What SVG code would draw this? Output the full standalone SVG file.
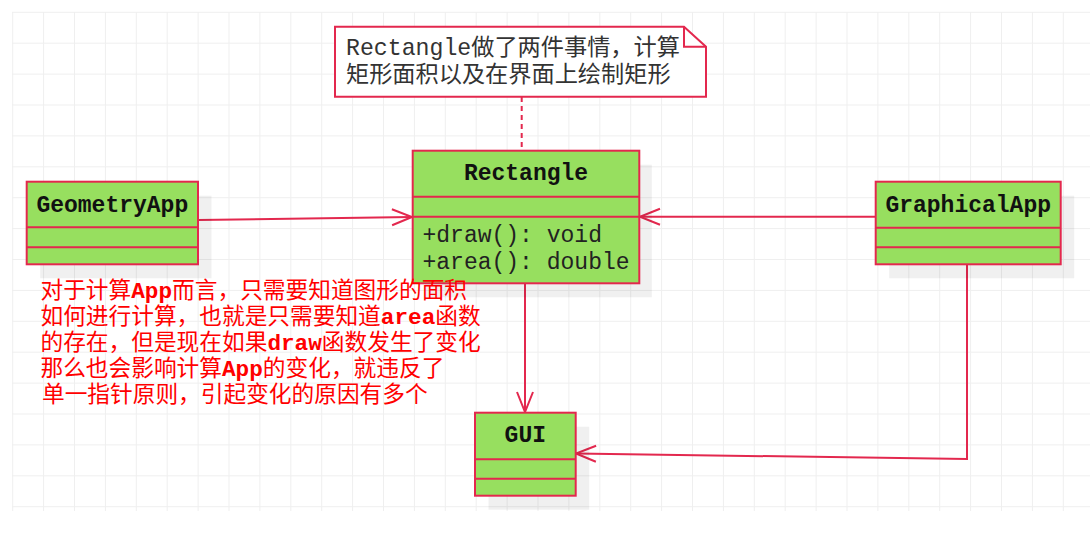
<svg xmlns="http://www.w3.org/2000/svg" width="1090" height="541" viewBox="0 0 1090 541">
<style>
.grid{stroke:#efefef;stroke-width:1;fill:none}
.shadow{fill:#000;fill-opacity:0.06;stroke:none}
.box{fill:#97df5f;stroke:#e3284e;stroke-width:2}
.div{stroke:#e3284e;stroke-width:2;fill:none}
.hdr{font-family:"Liberation Mono","DejaVu Sans Mono",monospace;font-weight:bold;font-size:23px;fill:#111;text-anchor:middle}
.mem{font-family:"Liberation Mono","DejaVu Sans Mono",monospace;font-size:23px;fill:#222}
.note{fill:#fff;stroke:#e3284e;stroke-width:2}
.notetxt{font-family:"Liberation Mono","Noto Sans CJK SC",monospace;font-size:23.2px;fill:#333}
.edge{stroke:#e3284e;stroke-width:2;fill:none}
.red{font-family:"Liberation Mono","Noto Sans CJK SC",monospace;font-size:22.7px;fill:#f00}
.b{font-weight:bold}
</style>
<defs>
<marker id="open" viewBox="0 0 24 20" markerUnits="userSpaceOnUse" markerWidth="24" markerHeight="20" refX="22" refY="10" orient="auto" overflow="visible">
<path d="M2,2 L22,10 L2,18" fill="none" stroke="#e3284e" stroke-width="2"/>
</marker>
</defs>
<rect width="1090" height="541" fill="#fff"/>
<path class="grid" d="M12.7 12V511M43.6 12V511M74.5 12V511M105.4 12V511M136.3 12V511M167.2 12V511M198.1 12V511M229 12V511M259.9 12V511M290.8 12V511M321.7 12V511M352.6 12V511M383.5 12V511M414.4 12V511M445.3 12V511M476.2 12V511M507.1 12V511M538 12V511M568.9 12V511M599.8 12V511M630.7 12V511M661.6 12V511M692.5 12V511M723.4 12V511M754.3 12V511M785.2 12V511M816.1 12V511M847 12V511M877.9 12V511M908.8 12V511M939.7 12V511M970.6 12V511M1001.5 12V511M1032.4 12V511M1063.3 12V511M12 12.3H1090M12 43.2H1090M12 74.1H1090M12 105H1090M12 135.9H1090M12 166.8H1090M12 197.7H1090M12 228.6H1090M12 259.5H1090M12 290.4H1090M12 321.3H1090M12 352.2H1090M12 383.1H1090M12 414H1090M12 444.9H1090M12 475.8H1090M12 506.7H1090"/>

<g id="connectors">
<path class="edge" d="M198,220 L412,217" marker-end="url(#open)"/>
<path class="edge" d="M875,216.7 L640,216.7" marker-end="url(#open)"/>
<path class="edge" d="M525,284 L525,412" marker-end="url(#open)"/>
<path class="edge" d="M967,265 V459 L576,453.5" marker-end="url(#open)"/>
<path class="edge" d="M521.7,97 V150" stroke-dasharray="5 4"/>
</g>

<g id="note">
<path class="note" d="M335,26.7 H684 L706,46.7 V96.7 H335 Z"/>
<path class="div" d="M684,26.7 V46.7 H706"/>
<text class="notetxt" x="346" y="55">Rectangle做了两件事情，计算</text>
<text class="notetxt" x="346" y="81.5">矩形面积以及在界面上绘制矩形</text>
</g>

<g id="Rectangle">
<rect class="shadow" x="425.2" y="164.7" width="226.6" height="132.6"/>
<rect class="box" x="412.7" y="150.7" width="226.6" height="132.6"/>
<path class="div" d="M412.7,196.7 H639.3 M412.7,216.7 H639.3"/>
<text class="hdr" x="526" y="179.5">Rectangle</text>
<text class="mem" x="422.5" y="242">+draw(): void</text>
<text class="mem" x="422.5" y="268.5">+area(): double</text>
</g>

<g id="GeometryApp">
<rect class="shadow" x="40.2" y="195.7" width="171.3" height="82.6"/>
<rect class="box" x="26.7" y="181.7" width="171.3" height="82.6"/>
<path class="div" d="M26.7,227.3 H198 M26.7,247.3 H198"/>
<text class="hdr" x="112.3" y="211.7">GeometryApp</text>
</g>

<g id="GraphicalApp">
<rect class="shadow" x="889.2" y="195.7" width="185" height="82.6"/>
<rect class="box" x="875.7" y="181.7" width="185" height="82.6"/>
<path class="div" d="M875.7,227.7 H1060.7 M875.7,247.3 H1060.7"/>
<text class="hdr" x="968.2" y="211.7">GraphicalApp</text>
</g>

<g id="GUI">
<rect class="shadow" x="488.5" y="426.7" width="100.7" height="83"/>
<rect class="box" x="475" y="412.7" width="100.7" height="83"/>
<path class="div" d="M475,459.3 H575.7 M475,478.7 H575.7"/>
<text class="hdr" x="525.3" y="441.7">GUI</text>
</g>

<g id="annotation">
<text class="red" x="40.5" y="298.3">对于计算<tspan class="b">App</tspan>而言，只需要知道图形的面积</text>
<text class="red" x="40.5" y="324">如何进行计算，也就是只需要知道<tspan class="b">area</tspan>函数</text>
<text class="red" x="40.5" y="350">的存在，但是现在如果<tspan class="b">draw</tspan>函数发生了变化</text>
<text class="red" x="40.5" y="376">那么也会影响计算<tspan class="b">App</tspan>的变化，就违反了</text>
<text class="red" x="42" y="401.7">单一指针原则，引起变化的原因有多个</text>
</g>
</svg>
